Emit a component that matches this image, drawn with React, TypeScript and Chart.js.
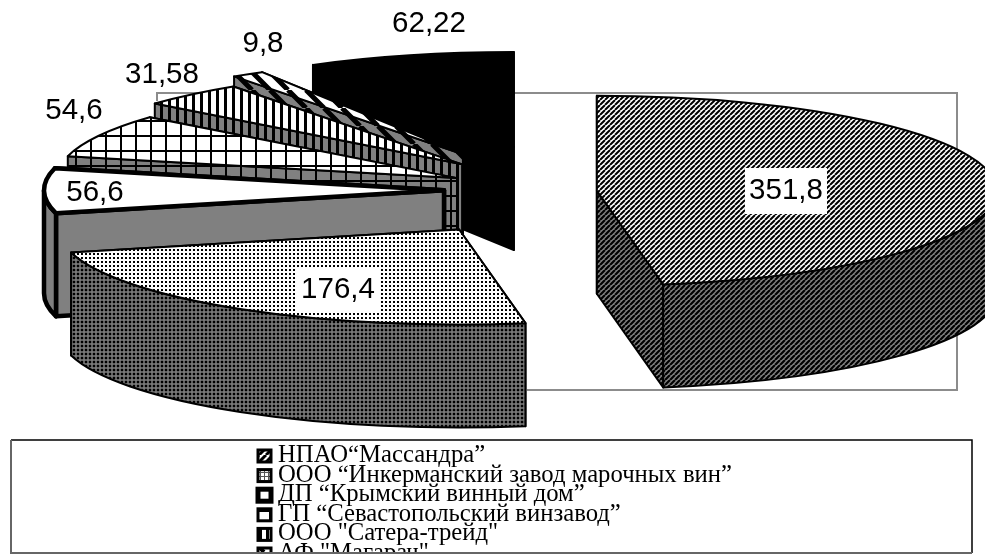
import React, { useEffect, useRef } from "react";
import { Chart, registerables } from "chart.js";

Chart.register(...registerables);

const categories = [
  "НПАО“Массандра”",
  "ООО “Инкерманский завод марочных вин”",
  "ДП “Крымский винный дом”",
  "ГП “Севастопольский винзавод”",
  "ООО \"Сатера-трейд\"",
  "АФ \"Магарач\"",
  "Другие",
];
const values = [351.8, 176.4, 56.6, 54.6, 31.58, 9.8, 62.22];
const valueLabels = ["351,8", "176,4", "56,6", "54,6", "31,58", "9,8", "62,22"];

// layout only: how far each slice is pulled out of the pie, and a small vertical correction
const explode = [47, 166, 106, 104, 130, 162, 139];
const lift = [2, -5, 0, 3, 5, 8, 0];
const labelAnchors = [[786, 191], [338, 290], [95, 193], [74, 111], [162, 75], [263, 44], [429, 24]];
const boxedLabels = [true, true, false, false, false, false, false];
const borderWidths = [2, 2, 4.5, 2, 2, 2, 2];
const RADIUS = 400;
const Y_SQUASH = 0.2375;
const OFFSET_SQUASH = 0.32;
const DEPTH = 103;

type Draw = (c: CanvasRenderingContext2D, s: number) => void;
function tile(size: number, bg: string, draw: Draw) {
  const t = document.createElement("canvas");
  t.width = size;
  t.height = size;
  const c = t.getContext("2d")!;
  c.fillStyle = bg;
  c.fillRect(0, 0, size, size);
  c.fillStyle = "#000";
  c.strokeStyle = "#000";
  draw(c, size);
  return document.createElement("canvas").getContext("2d")!.createPattern(t, "repeat")!;
}
const slashes = (w: number): Draw => (c, s) => {
  c.lineWidth = w;
  c.beginPath();
  for (let i = -1; i <= 1; i++) {
    c.moveTo(i * s, s);
    c.lineTo(i * s + s, 0);
  }
  c.stroke();
};
const backslashes = (w: number): Draw => (c, s) => {
  c.lineWidth = w;
  c.beginPath();
  for (let i = -1; i <= 1; i++) {
    c.moveTo(i * s, 0);
    c.lineTo(i * s + s, s);
  }
  c.stroke();
};
const grid: Draw = (c, s) => {
  c.fillRect(0, 0, 2, s);
  c.fillRect(0, 0, s, 2);
};
const vbars: Draw = (c, s) => {
  c.fillRect(0, 0, 3, s);
};

const pie3d = {
  id: "pie3d",
  beforeDatasetsDraw(chart: any) {
    const ctx: CanvasRenderingContext2D = chart.ctx;
    const ds = chart.data.datasets[0];
    const arcs = chart.getDatasetMeta(0).data;

    // plot-area frame behind the pie
    ctx.save();
    ctx.strokeStyle = "#8c8c8c";
    ctx.lineWidth = 2;
    ctx.beginPath();
    ctx.moveTo(157, 101);
    ctx.lineTo(157, 93);
    ctx.lineTo(957, 93);
    ctx.lineTo(957, 390);
    ctx.lineTo(527, 390);
    ctx.stroke();
    ctx.restore();

    for (let i = arcs.length - 1; i >= 0; i--) {
      const a = arcs[i].getProps(["x", "y", "startAngle", "endAngle", "outerRadius"], true);
      const o = arcs[i].options;
      const mid = (a.startAngle + a.endAngle) / 2;
      const cx = a.x + Math.cos(mid) * o.offset;
      const cy = a.y + Math.sin(mid) * o.offset * OFFSET_SQUASH + lift[i];
      const rx = a.outerRadius;
      const ry = a.outerRadius * Y_SQUASH;
      const s = a.startAngle;
      const e = a.endAngle;
      const px = (t: number) => cx + rx * Math.cos(t);
      const py = (t: number) => cy + ry * Math.sin(t);
      const side = ds.sideColors[i];

      const paint = (fill: any) => {
        ctx.fillStyle = fill;
        ctx.fill();
        ctx.stroke();
      };
      ctx.save();
      ctx.lineJoin = "round";
      ctx.strokeStyle = o.borderColor;
      ctx.lineWidth = o.borderWidth;

      const wall = (t: number) => {
        ctx.beginPath();
        ctx.moveTo(cx, cy);
        ctx.lineTo(px(t), py(t));
        ctx.lineTo(px(t), py(t) + DEPTH);
        ctx.lineTo(cx, cy + DEPTH);
        ctx.closePath();
        paint(side);
      };
      // radial walls: the far one first, the one facing the viewer last
      const startFront = Math.cos(s) > 0 ? false : Math.sin(s + Math.PI / 2) < 0;
      const endFront = Math.sin(e + Math.PI / 2) > 0;
      if (!startFront) wall(s);
      if (!endFront) wall(e);
      if (startFront) wall(s);
      if (endFront) wall(e);

      // rim: only the part of the arc on the viewer's side (canvas angles 0..PI)
      const ranges: [number, number][] = [[0, Math.PI], [2 * Math.PI, 3 * Math.PI]];
      for (const [lo, hi] of ranges) {
        const t0 = Math.max(s, lo);
        const t1 = Math.min(e, hi);
        if (t1 <= t0) continue;
        ctx.beginPath();
        ctx.ellipse(cx, cy, rx, ry, 0, t0, t1);
        ctx.lineTo(px(t1), py(t1) + DEPTH);
        ctx.ellipse(cx, cy + DEPTH, rx, ry, 0, t1, t0, true);
        ctx.closePath();
        paint(side);
      }

      // top face
      ctx.beginPath();
      ctx.moveTo(cx, cy);
      ctx.ellipse(cx, cy, rx, ry, 0, s, e);
      ctx.closePath();
      paint(o.backgroundColor);
      ctx.restore();
    }
    return false;
  },
  afterDraw(chart: any) {
    const ctx: CanvasRenderingContext2D = chart.ctx;
    const ds = chart.data.datasets[0];
    ctx.save();
    ctx.font = "29.5px 'Liberation Sans'";
    ctx.textAlign = "center";
    ctx.textBaseline = "middle";
    valueLabels.forEach((t, i) => {
      const [x, y] = labelAnchors[i];
      if (boxedLabels[i]) {
        ctx.fillStyle = "#fff";
        ctx.fillRect(x - 41, y - 23, 82, 46);
      }
      ctx.fillStyle = "#000";
      ctx.fillText(t, x, y);
    });
    ctx.restore();

    // legend, cut off by its own frame as in the source
    const L = { left: 11, top: 440, right: 972, bottom: 553 };
    ctx.save();
    ctx.beginPath();
    ctx.rect(L.left, L.top, L.right - L.left, L.bottom - L.top);
    ctx.clip();
    ctx.font = "24.7px 'Liberation Serif'";
    ctx.textBaseline = "alphabetic";
    ctx.textAlign = "left";
    categories.forEach((t, i) => {
      const base = 462 + i * 19.6;
      if (base - 18 > L.bottom) return;
      const top = base - 12;
      ctx.fillStyle = ds.swatchColors[i];
      ctx.fillRect(258, top, 13, 12);
      ctx.strokeStyle = "#000";
      ctx.lineWidth = i === 2 ? 5 : 3;
      ctx.strokeRect(258, top, 13, 12);
      ctx.fillStyle = "#000";
      ctx.fillText(t, 278, base);
    });
    ctx.restore();
    ctx.save();
    ctx.lineWidth = 1.5;
    ctx.strokeStyle = "#000";
    ctx.beginPath();
    ctx.moveTo(L.left, L.top);
    ctx.lineTo(L.right, L.top);
    ctx.lineTo(L.right, L.bottom);
    ctx.stroke();
    ctx.strokeStyle = "#666";
    ctx.lineWidth = 2;
    ctx.beginPath();
    ctx.moveTo(L.left, L.top);
    ctx.lineTo(L.left, L.bottom);
    ctx.lineTo(L.right, L.bottom);
    ctx.stroke();
    ctx.restore();
  },
};

export default function App() {
  const ref = useRef<HTMLCanvasElement>(null);
  useEffect(() => {
    document.body.style.margin = "0";
    const topFaces = [
      tile(5, "#fff", slashes(2)),
      tile(4, "#fff", (c) => c.fillRect(1, 1, 2, 2)),
      "#fff",
      tile(15, "#fff", grid),
      tile(8, "#fff", vbars),
      tile(18, "#fff", backslashes(5)),
      "#000",
    ];
    const sideFaces = [
      tile(5, "#808080", slashes(2.2)),
      tile(4, "#808080", (c) => c.fillRect(0.75, 0.75, 2.5, 2.5)),
      "#808080",
      tile(15, "#808080", grid),
      tile(8, "#808080", vbars),
      tile(18, "#808080", backslashes(5)),
      "#000",
    ];
    const swatches = [
      tile(7, "#fff", slashes(3)),
      tile(4, "#fff", (c) => {
        c.fillStyle = "#555";
        c.fillRect(0, 0, 1, 4);
        c.fillRect(0, 0, 4, 1);
      }),
      "#fff",
      tile(13, "#fff", (c, s) => {
        c.fillRect(0, 3, s, 2);
        c.fillRect(9, 0, 2, s);
      }),
      tile(7, "#fff", (c, s) => c.fillRect(0, 0, 3, s)),
      tile(12, "#fff", backslashes(4)),
      "#000",
    ];
    const chart = new Chart(ref.current!, {
      type: "pie",
      data: {
        labels: categories,
        datasets: [
          {
            data: values,
            radius: RADIUS,
            offset: explode,
            backgroundColor: topFaces,
            borderColor: "#000",
            borderWidth: borderWidths,
            sideColors: sideFaces,
            swatchColors: swatches,
          } as any,
        ],
      },
      options: {
        responsive: false,
        animation: false,
        devicePixelRatio: 1,
        layout: { padding: { left: 115, bottom: 176 } },
        plugins: { legend: { display: false }, tooltip: { enabled: false } },
      },
      plugins: [pie3d],
    } as any);
    return () => chart.destroy();
  }, []);
  return <canvas ref={ref} width={985} height={556} style={{ display: "block", background: "#fff" }} />;
}
